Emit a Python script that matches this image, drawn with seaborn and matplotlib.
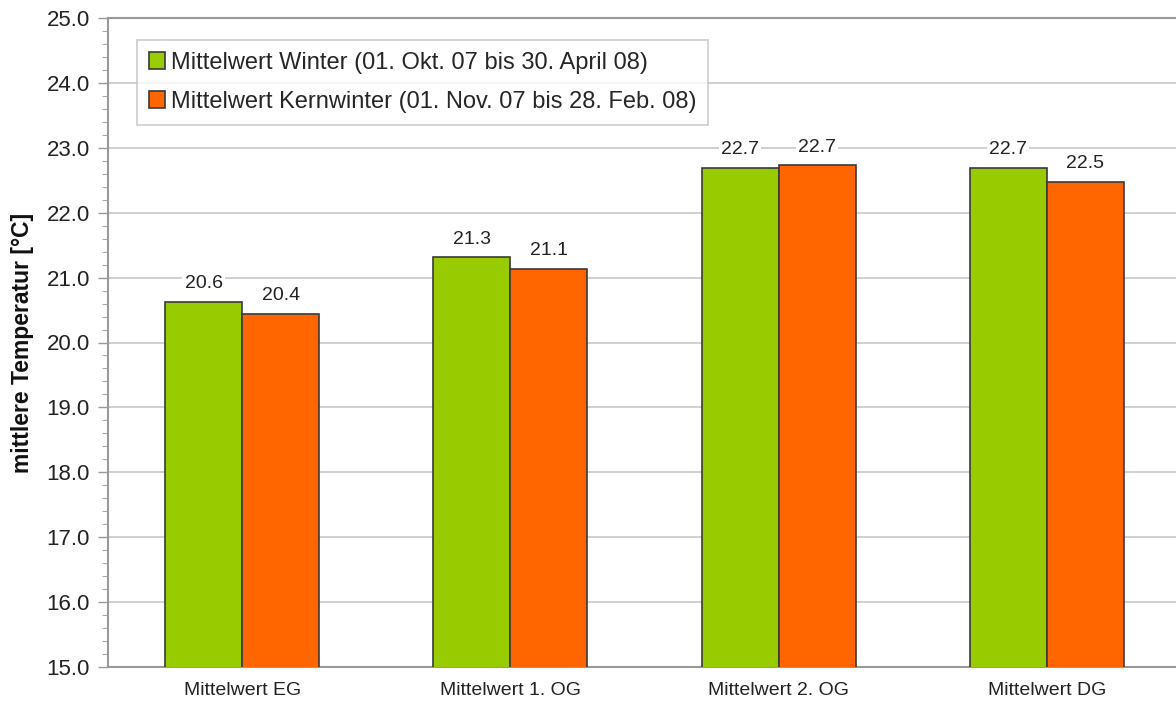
import numpy as np
import matplotlib
matplotlib.use("Agg")
import matplotlib.pyplot as plt
from matplotlib.patches import Patch
from matplotlib.ticker import MultipleLocator, FixedLocator
import seaborn as sns
import pandas as pd

# data
categories = ["Mittelwert EG", "Mittelwert 1. OG", "Mittelwert 2. OG", "Mittelwert DG"]
winter = [20.63, 21.31, 22.69, 22.69]
kernwinter = [20.44, 21.13, 22.73, 22.48]
series = ["Mittelwert Winter (01. Okt. 07 bis 30. April 08)",
          "Mittelwert Kernwinter (01. Nov. 07 bis 28. Feb. 08)"]
colors = ["#99CC00", "#FF6600"]

df = pd.DataFrame({
    "Kategorie": categories * 2,
    "Wert": winter + kernwinter,
    "Reihe": [series[0]] * 4 + [series[1]] * 4,
})

sns.set_style("white")
plt.rcParams["font.family"] = ["Liberation Sans", "DejaVu Sans"]

fig = plt.figure(figsize=(11.76, 7.08), dpi=100)
ax = fig.add_axes([108 / 1176, 41 / 708, 1073 / 1176, 649 / 708])

sns.barplot(data=df, x="Kategorie", y="Wert", hue="Reihe", palette=colors,
            saturation=1, width=0.575, edgecolor="#3a3a3a", linewidth=1.2,
            legend=False, ax=ax, zorder=3)

ax.set_ylim(15, 25)
ax.set_xlim(-0.5, 3.5)
ax.set_yticks(np.arange(15, 25.1, 1.0))
ax.set_yticklabels([f"{v:.1f}" for v in np.arange(15, 25.1, 1.0)])
ax.yaxis.set_minor_locator(MultipleLocator(0.2))
ax.grid(axis="y", which="major", color="#c8c8c8", linewidth=1.2, zorder=0)
ax.set_axisbelow(True)

ax.xaxis.set_minor_locator(FixedLocator([-0.5, 0.5, 1.5, 2.5, 3.5]))
ax.tick_params(axis="x", which="major", length=0, labelsize=14, pad=11, colors="#222222")
ax.tick_params(axis="x", which="minor", length=6, width=1, color="#999999")
ax.tick_params(axis="y", which="major", length=7, width=1, color="#999999",
               labelsize=16, labelcolor="#222222", left=True, pad=6)
ax.tick_params(axis="y", which="minor", length=4, width=0.8, color="#aaaaaa", left=True)

for side in ["left", "bottom", "top", "right"]:
    ax.spines[side].set_color("#999999")
    ax.spines[side].set_linewidth(1.5)

ax.set_xlabel("")
ax.set_ylabel("mittlere Temperatur [°C]", fontsize=16.5, fontweight="bold",
              color="#111111", labelpad=9)

for cont in ax.containers:
    labels = ax.bar_label(cont, fmt="%.1f", padding=7, fontsize=14, color="#222222")
    for t in labels:
        t.set_bbox(dict(facecolor="white", edgecolor="none", pad=1.5))
        t.set_zorder(4)

handles = [Patch(facecolor=c, edgecolor="#3a3a3a", linewidth=1.2, label=s)
           for c, s in zip(colors, series)]
leg = ax.legend(handles=handles, loc="upper left", bbox_to_anchor=(0.027, 0.966),
                borderaxespad=0, fontsize=17, frameon=True, fancybox=False,
                handlelength=0.68, handleheight=0.68, handletextpad=0.25,
                labelspacing=0.72, borderpad=0.5)
leg.get_frame().set_edgecolor("#c0c0c0")
leg.get_frame().set_linewidth(1.2)

fig.savefig("out.png", dpi=100)
